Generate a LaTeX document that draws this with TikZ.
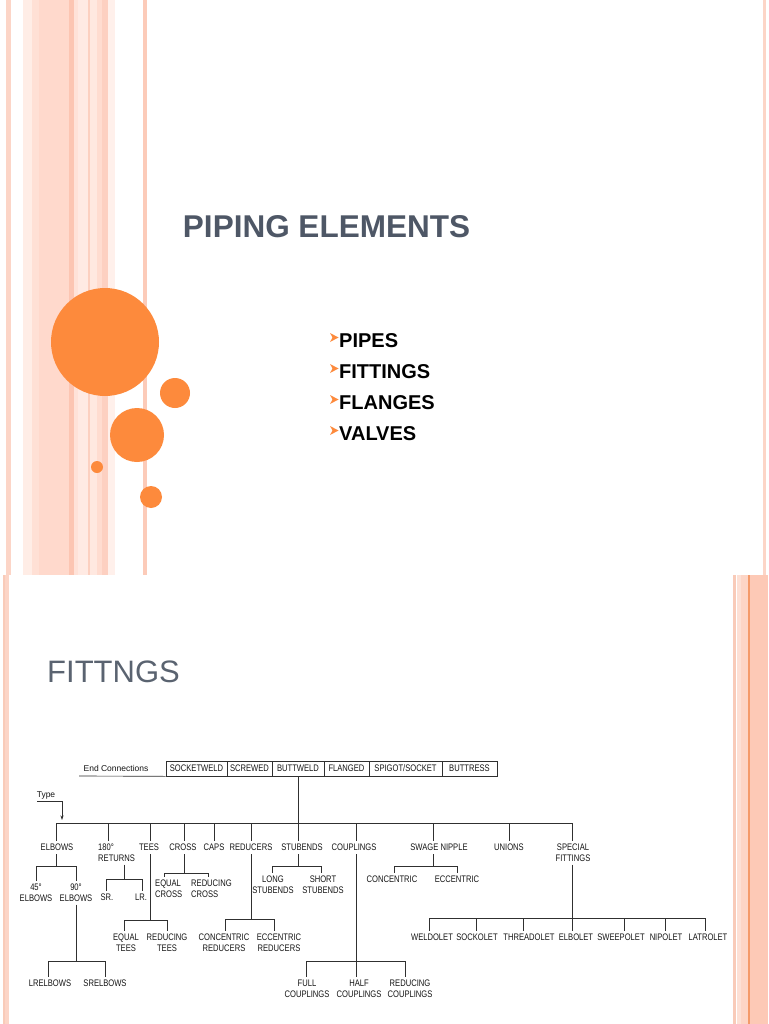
\documentclass[tikz,border=0pt]{standalone}
\usepackage{fontspec}
\setmainfont{Liberation Sans}
\newfontfamily\treefont[FakeStretch=0.8]{Liberation Sans}
\newfontfamily\plainsans{Liberation Sans}
\usetikzlibrary{arrows.meta}
\definecolor{pkA}{HTML}{FCD5C7}
\definecolor{pkB}{HTML}{FFEDE6}
\definecolor{pkC}{HTML}{FFE0D5}
\definecolor{pkD}{HTML}{FFD9CC}
\definecolor{pkE}{HTML}{FCC5B2}
\definecolor{pkF}{HTML}{FFE2D8}
\definecolor{pkG}{HTML}{FFEAE3}
\definecolor{pkH}{HTML}{FCD0C0}
\definecolor{pkI}{HTML}{FFE8E0}
\definecolor{pkJ}{HTML}{FFDCD0}
\definecolor{pkK}{HTML}{FDD0C1}
\definecolor{pkL}{HTML}{FFF0EB}
\definecolor{pkM}{HTML}{FCCBB9}
\definecolor{rpA}{HTML}{F9CBB9}
\definecolor{rpB}{HTML}{FDE0D5}
\definecolor{rpC}{HTML}{FDD5C6}
\definecolor{rpD}{HTML}{F49A6A}
\definecolor{rpE}{HTML}{FDC9B6}
\definecolor{dotc}{HTML}{FD8A3C}
\definecolor{titlec}{HTML}{4E5766}
\definecolor{fitc}{HTML}{5A6370}
\definecolor{ink}{HTML}{151515}
\definecolor{linec}{HTML}{303030}
\newcommand\mychev[2]{\fill[dotc] (#1,#2) -- ++(8.5,4.5) -- ++(-8.5,4.5) -- ++(2.5,-4.5) -- cycle;}
\begin{document}
\begin{tikzpicture}[x=1pt,y=-1pt,
  lbl/.style={font=\treefont\fontsize{9.5}{10.5}\selectfont, text=ink, inner xsep=1pt, inner ysep=3pt, align=center, anchor=north},
  lbll/.style={lbl, align=left, anchor=north west},
  conn/.style={draw=linec, line width=0.65pt},
  ebox/.style={draw=linec, line width=0.65pt, minimum height=15pt, inner sep=0pt, text=ink, font=\treefont\fontsize{9.5}{10.5}\selectfont},
  bul/.style={font=\bfseries\fontsize{20}{24}\selectfont, text=black, anchor=west, inner sep=0pt}
]
\useasboundingbox (0,0) rectangle (768,1024);
\fill[white] (0,0) rectangle (768,1024);
% ---------- top slide stripes ----------
\fill[pkA] (6,0) rectangle (11,575);
\fill[pkB] (23,0) rectangle (32,575);
\fill[pkC] (32,0) rectangle (39,575);
\fill[pkD] (39,0) rectangle (69,575);
\fill[pkE] (69,0) rectangle (74,575);
\fill[pkF] (74,0) rectangle (78,575);
\fill[pkG] (78,0) rectangle (88,575);
\fill[pkH] (88,0) rectangle (90,575);
\fill[pkI] (90,0) rectangle (97,575);
\fill[pkJ] (97,0) rectangle (102,575);
\fill[pkK] (102,0) rectangle (108,575);
\fill[pkL] (108,0) rectangle (115,575);
\fill[pkM] (143,0) rectangle (147,575);
\fill[pkA] (763,0) rectangle (766,575);
% ---------- circles ----------
\fill[dotc] (105,342) circle (54);
\fill[dotc] (175,393) circle (15);
\fill[dotc] (137,435) circle (27);
\fill[dotc] (97,467) circle (6);
\fill[dotc] (151,497) circle (11);
% ---------- top slide text ----------
\node[font=\bfseries\fontsize{31.5}{36}\selectfont, text=titlec, inner sep=0pt] (title) at (326.5,227) {PIPING ELEMENTS};
\mychev{330}{333}
\mychev{330}{364}
\mychev{330}{395}
\mychev{330}{426}
\node[bul] (b1) at (339,341) {PIPES};
\node[bul] (b2) at (339,372) {FITTINGS};
\node[bul] (b3) at (339,403) {FLANGES};
\node[bul] (b4) at (339,434) {VALVES};
% ---------- bottom slide stripes ----------
\fill[rpA] (3,575) rectangle (4.5,1024);
\fill[pkA] (5,575) rectangle (9,1024);
\fill[rpA] (733,575) rectangle (736,1024);
\fill[rpB] (737,575) rectangle (741,1024);
\fill[rpC] (741,575) rectangle (748,1024);
\fill[rpD] (748,575) rectangle (750,1024);
\fill[rpE] (750,575) rectangle (768,1024);
\node[font=\fontsize{31}{36}\selectfont, text=fitc, anchor=west, inner sep=0pt] (fitt) at (47,672) {FITTNGS};
% ---------- end connections ----------
\node[font=\plainsans\fontsize{8.5}{10}\selectfont, text=ink, inner sep=0pt] (endc) at (116,768) {End Connections};
\node[ebox, minimum width=61pt] (bsw) at (196.5,768.5) {SOCKETWELD};
\node[ebox, minimum width=45pt] (bsc) at (249.5,768.5) {SCREWED};
\node[ebox, minimum width=52pt] (bbw) at (298,768.5) {BUTTWELD};
\node[ebox, minimum width=45pt] (bfl) at (346.5,768.5) {FLANGED};
\node[ebox, minimum width=73pt] (bsp) at (405.5,768.5) {SPIGOT/SOCKET};
\node[ebox, minimum width=55pt] (bbt) at (469.5,768.5) {BUTTRESS};
\coordinate (ecl) at (79,776);
\draw[conn] (ecl) -- (bsw.south west);
% ---------- type ----------
\node[font=\plainsans\fontsize{8.5}{10}\selectfont, text=ink, inner sep=0pt] (type) at (46,795) {Type};
\coordinate (t-start) at (37,801);
\coordinate (t-corner) at (62,801);
\coordinate (t-end) at (62,820);
\draw[conn, -{Stealth[length=4.5pt,width=3pt]}] (t-start) -- (t-corner) -- (t-end);
% ---------- main bus ----------
\coordinate (b-elb) at (56,823);
\coordinate (b-ret) at (108,823);
\coordinate (b-tee) at (150,823);
\coordinate (b-cro) at (184,823);
\coordinate (b-cap) at (214,823);
\coordinate (b-red) at (251,823);
\coordinate (b-stu) at (298,823);
\coordinate (b-cou) at (356,823);
\coordinate (b-swa) at (433,823);
\coordinate (b-uni) at (509,823);
\coordinate (b-spe) at (572,823);
\draw[conn] (bbw.south) -- (b-stu);
\draw[conn] (b-elb) -- (b-spe);
\node[lbl] (elbows) at (57,841) {ELBOWS};
\node[lbll] (returns) at (97,841) {180°\\RETURNS};
\node[lbl] (tees) at (149,841) {TEES};
\node[lbl] (cross) at (183,841) {CROSS};
\node[lbl] (caps) at (214,841) {CAPS};
\node[lbl] (reducers) at (251,841) {REDUCERS};
\node[lbl] (stubends) at (302,841) {STUBENDS};
\node[lbl] (couplings) at (354,841) {COUPLINGS};
\node[lbl] (swage) at (439,841) {SWAGE NIPPLE};
\node[lbl] (unions) at (509,841) {UNIONS};
\node[lbl] (special) at (573,841) {SPECIAL\\FITTINGS};
\foreach \b/\n in {b-elb/elbows, b-ret/returns, b-tee/tees, b-cro/cross, b-cap/caps, b-red/reducers, b-stu/stubends, b-cou/couplings, b-swa/swage, b-uni/unions, b-spe/special}
  \draw[conn] (\b) -- (\b |- \n.north);
% ---------- elbows ----------
\coordinate (e-d) at (56,866);
\coordinate (e45-j) at (36,866);
\coordinate (e90-j) at (76,866);
\draw[conn] (e-d |- elbows.south) -- (e-d);
\draw[conn] (e45-j) -- (e90-j);
\node[lbl] (e45) at (36,881) {45°\\ELBOWS};
\node[lbl] (e90) at (76,881) {90°\\ELBOWS};
\draw[conn] (e45-j) -- (e45-j |- e45.north);
\draw[conn] (e90-j) -- (e90-j |- e90.north);
\coordinate (e90-d) at (76,961);
\coordinate (lr-j) at (48,961);
\coordinate (sr-j) at (105,961);
\draw[conn] (e90-d |- e90.south) -- (e90-d);
\draw[conn] (lr-j) -- (sr-j);
\node[lbl] (lrelb) at (50,977) {LRELBOWS};
\node[lbl] (srelb) at (105,977) {SRELBOWS};
\draw[conn] (lr-j) -- (lr-j |- lrelb.north);
\draw[conn] (sr-j) -- (sr-j |- srelb.north);
% ---------- returns ----------
\coordinate (r-d) at (124,879);
\coordinate (sr2-j) at (106,879);
\coordinate (lr2-j) at (142,879);
\draw[conn] (r-d |- returns.south) -- (r-d);
\draw[conn] (sr2-j) -- (lr2-j);
\node[lbl] (sr) at (107,891) {SR.};
\node[lbl] (lr) at (141,891) {LR.};
\draw[conn] (sr2-j) -- (sr2-j |- sr.north);
\draw[conn] (lr2-j) -- (lr2-j |- lr.north);
% ---------- tees ----------
\coordinate (t-d) at (150,920);
\coordinate (et-j) at (124,920);
\coordinate (rt-j) at (167,920);
\draw[conn] (t-d |- tees.south) -- (t-d);
\draw[conn] (et-j) -- (rt-j);
\node[lbl] (eqt) at (126,931) {EQUAL\\TEES};
\node[lbl] (redt) at (167,931) {REDUCING\\TEES};
\draw[conn] (et-j) -- (et-j |- eqt.north);
\draw[conn] (rt-j) -- (rt-j |- redt.north);
% ---------- cross ----------
\coordinate (c-d) at (184,873);
\coordinate (ec-j) at (164,873);
\coordinate (rc-j) at (208,873);
\draw[conn] (c-d |- cross.south) -- (c-d);
\draw[conn] (ec-j) -- (rc-j);
\node[lbll] (eqc) at (154,877) {EQUAL\\CROSS};
\node[lbll] (redc) at (190,877) {REDUCING\\CROSS};
\draw[conn] (ec-j) -- (ec-j |- eqc.north);
\draw[conn] (rc-j) -- (rc-j |- redc.north);
% ---------- reducers ----------
\coordinate (rd-d) at (251,919);
\coordinate (cr-j) at (225,919);
\coordinate (er-j) at (274,919);
\draw[conn] (rd-d |- reducers.south) -- (rd-d);
\draw[conn] (cr-j) -- (er-j);
\node[lbl] (conr) at (224,931) {CONCENTRIC\\REDUCERS};
\node[lbl] (eccr) at (279,931) {ECCENTRIC\\REDUCERS};
\draw[conn] (cr-j) -- (cr-j |- conr.north);
\draw[conn] (er-j) -- (er-j |- eccr.north);
% ---------- stubends ----------
\coordinate (s-d) at (298,866);
\coordinate (ls-j) at (272,866);
\coordinate (ss-j) at (321,866);
\draw[conn] (s-d |- stubends.south) -- (s-d);
\draw[conn] (ls-j) -- (ss-j);
\node[lbl] (longs) at (273,873) {LONG\\STUBENDS};
\node[lbl] (shorts) at (323,873) {SHORT\\STUBENDS};
\draw[conn] (ls-j) -- (ls-j |- longs.north);
\draw[conn] (ss-j) -- (ss-j |- shorts.north);
% ---------- couplings ----------
\coordinate (fc-j) at (306,961);
\coordinate (hc-j) at (356,961);
\coordinate (rcp-j) at (405,961);
\node[lbl] (fullc) at (307,977) {FULL\\COUPLINGS};
\node[lbl] (halfc) at (359,977) {HALF\\COUPLINGS};
\node[lbl] (redcp) at (410,977) {REDUCING\\COUPLINGS};
\draw[conn] (hc-j |- couplings.south) -- (hc-j |- halfc.north);
\draw[conn] (fc-j) -- (rcp-j);
\draw[conn] (fc-j) -- (fc-j |- fullc.north);
\draw[conn] (rcp-j) -- (rcp-j |- redcp.north);
% ---------- swage nipple ----------
\coordinate (sw-d) at (433,866);
\coordinate (cn-j) at (394,866);
\coordinate (ex-j) at (457,866);
\draw[conn] (sw-d |- swage.south) -- (sw-d);
\draw[conn] (cn-j) -- (ex-j);
\node[lbl] (conc) at (392,873) {CONCENTRIC};
\node[lbl] (ecc) at (457,873) {ECCENTRIC};
\draw[conn] (cn-j) -- (cn-j |- conc.north);
\draw[conn] (ex-j) -- (ex-j |- ecc.north);
% ---------- special fittings ----------
\coordinate (w-j) at (429,918);
\coordinate (so-j) at (476,918);
\coordinate (th-j) at (523,918);
\coordinate (el-j) at (572,918);
\coordinate (sw2-j) at (624,918);
\coordinate (ni-j) at (665,918);
\coordinate (la-j) at (705,918);
\draw[conn] (w-j) -- (la-j);
\node[lbl] (weld) at (432,931) {WELDOLET};
\node[lbl] (sock) at (477,931) {SOCKOLET};
\node[lbl] (thread) at (529,931) {THREADOLET};
\node[lbl] (elbo) at (576,931) {ELBOLET};
\node[lbl] (sweep) at (621,931) {SWEEPOLET};
\node[lbl] (nip) at (666,931) {NIPOLET};
\node[lbl] (latro) at (708,931) {LATROLET};
\draw[conn] (el-j |- special.south) -- (el-j |- elbo.north);
\foreach \b/\n in {w-j/weld, so-j/sock, th-j/thread, sw2-j/sweep, ni-j/nip, la-j/latro}
  \draw[conn] (\b) -- (\b |- \n.north);
\end{tikzpicture}
\end{document}
